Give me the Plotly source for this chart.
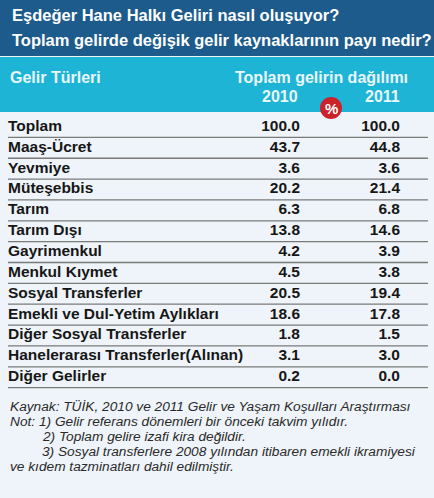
import plotly.graph_objects as go

W, H = 434, 498

title_lines = [
    "Eşdeğer Hane Halkı Geliri nasıl oluşuyor?",
    "Toplam gelirde değişik gelir kaynaklarının payı nedir?",
]

categories = [
    "Toplam",
    "Maaş-Ücret",
    "Yevmiye",
    "Müteşebbis",
    "Tarım",
    "Tarım Dışı",
    "Gayrimenkul",
    "Menkul Kıymet",
    "Sosyal Transferler",
    "Emekli ve Dul-Yetim Aylıkları",
    "Diğer Sosyal Transferler",
    "Hanelerarası Transferler(Alınan)",
    "Diğer Gelirler",
]
values_2010 = [100.0, 43.7, 3.6, 20.2, 6.3, 13.8, 4.2, 4.5, 20.5, 18.6, 1.8, 3.1, 0.2]
values_2011 = [100.0, 44.8, 3.6, 21.4, 6.8, 14.6, 3.9, 3.8, 19.4, 17.8, 1.5, 3.0, 0.0]

notes = [
    "Kaynak: TÜİK, 2010 ve 2011 Gelir ve Yaşam Koşulları Araştırması",
    "Not: 1) Gelir referans dönemleri bir önceki takvim yılıdır.",
    "2) Toplam gelire izafi kira değildir.",
    "3) Sosyal transferlere 2008 yılından itibaren emekli ikramiyesi",
    "ve kıdem tazminatları dahil edilmiştir.",
]
note_indent = [8, 8, 40, 40, 8]

DARK = "#1c5b8b"
CYAN = "#1db4d6"
BODY = "#eef4f9"
FONT = "Liberation Sans, Arial, sans-serif"

# row i sits at pixel ROW0 + i*STEP
ROW0, STEP = 127, 20.85
y_top = -ROW0 / STEP
y_bot = (H - ROW0) / STEP


def py(p):
    return 1 - p / H


row_font = dict(family=FONT, size=15.5, color="#161616", weight="bold")

fig = go.Figure()

fig.add_trace(go.Scatter(
    x=[8] * len(categories), y=categories, mode="text", text=categories,
    textposition="middle right", cliponaxis=False, textfont=row_font,
    hoverinfo="skip",
))
fig.add_trace(go.Scatter(
    x=[300] * len(categories), y=categories, mode="text",
    text=[f"{v:.1f}" for v in values_2010],
    textposition="middle left", cliponaxis=False, textfont=row_font,
    hoverinfo="skip",
))
fig.add_trace(go.Scatter(
    x=[400] * len(categories), y=categories, mode="text",
    text=[f"{v:.1f}" for v in values_2011],
    textposition="middle left", cliponaxis=False, textfont=row_font,
    hoverinfo="skip",
))

shapes = [
    dict(type="rect", xref="paper", yref="paper", x0=0, x1=1, y0=py(56), y1=1,
         fillcolor=DARK, line_width=0, layer="below"),
    dict(type="rect", xref="paper", yref="paper", x0=0, x1=1, y0=py(112), y1=py(57),
         fillcolor=CYAN, line_width=0, layer="below"),
]
for i in range(len(categories)):
    shapes.append(dict(type="line", xref="x", yref="y", x0=8, x1=428,
                       y0=i + 0.5, y1=i + 0.5, line=dict(color="#7a7a7a", width=1.3)))
# percent badge
shapes.append(dict(type="circle", xref="x", yref="paper", x0=320, x1=342,
                   y0=py(119), y1=py(97), fillcolor="#cc2229", line_width=0))

annotations = []
for k, line in enumerate(title_lines):
    annotations.append(dict(
        text=line, x=10 / W, y=py(15 + 25 * k), xref="paper", yref="paper",
        xanchor="left", yanchor="middle", showarrow=False,
        font=dict(family=FONT, size=16.5, color="white", weight="bold"),
    ))
header = [
    dict(text="Gelir Türleri", x=8 / W, y=py(78), xanchor="left"),
    dict(text="Toplam gelirin dağılımı", x=410 / W, y=py(78), xanchor="right"),
    dict(text="2010", x=300 / W, y=py(97), xanchor="right"),
    dict(text="2011", x=402 / W, y=py(97), xanchor="right"),
]
for a in header:
    a.update(xref="paper", yref="paper", yanchor="middle", showarrow=False,
             font=dict(family=FONT, size=16, color="#eaf7fb", weight="bold"))
annotations += header
annotations.append(dict(
    text="%", x=331 / W, y=py(108), xref="paper", yref="paper", showarrow=False,
    xanchor="center", yanchor="middle",
    font=dict(family=FONT, size=15, color="white", weight="bold"),
))
for k, line in enumerate(notes):
    annotations.append(dict(
        text=f"<i>{line}</i>", x=note_indent[k] / W, y=py(406 + 15 * k),
        xref="paper", yref="paper",
        xanchor="left", yanchor="middle", showarrow=False,
        font=dict(family=FONT, size=13.7, color="#2a2a2a"),
    ))

fig.update_layout(
    width=W, height=H,
    margin=dict(l=0, r=0, t=0, b=0),
    paper_bgcolor=BODY, plot_bgcolor=BODY,
    showlegend=False,
    shapes=shapes, annotations=annotations,
    xaxis=dict(range=[0, W], visible=False, fixedrange=True),
    yaxis=dict(type="category", categoryorder="array", categoryarray=categories,
               range=[y_bot, y_top], visible=False, fixedrange=True),
)

fig.write_html("out.html", config={"displayModeBar": False},
               post_script="document.body.style.margin='0';")
